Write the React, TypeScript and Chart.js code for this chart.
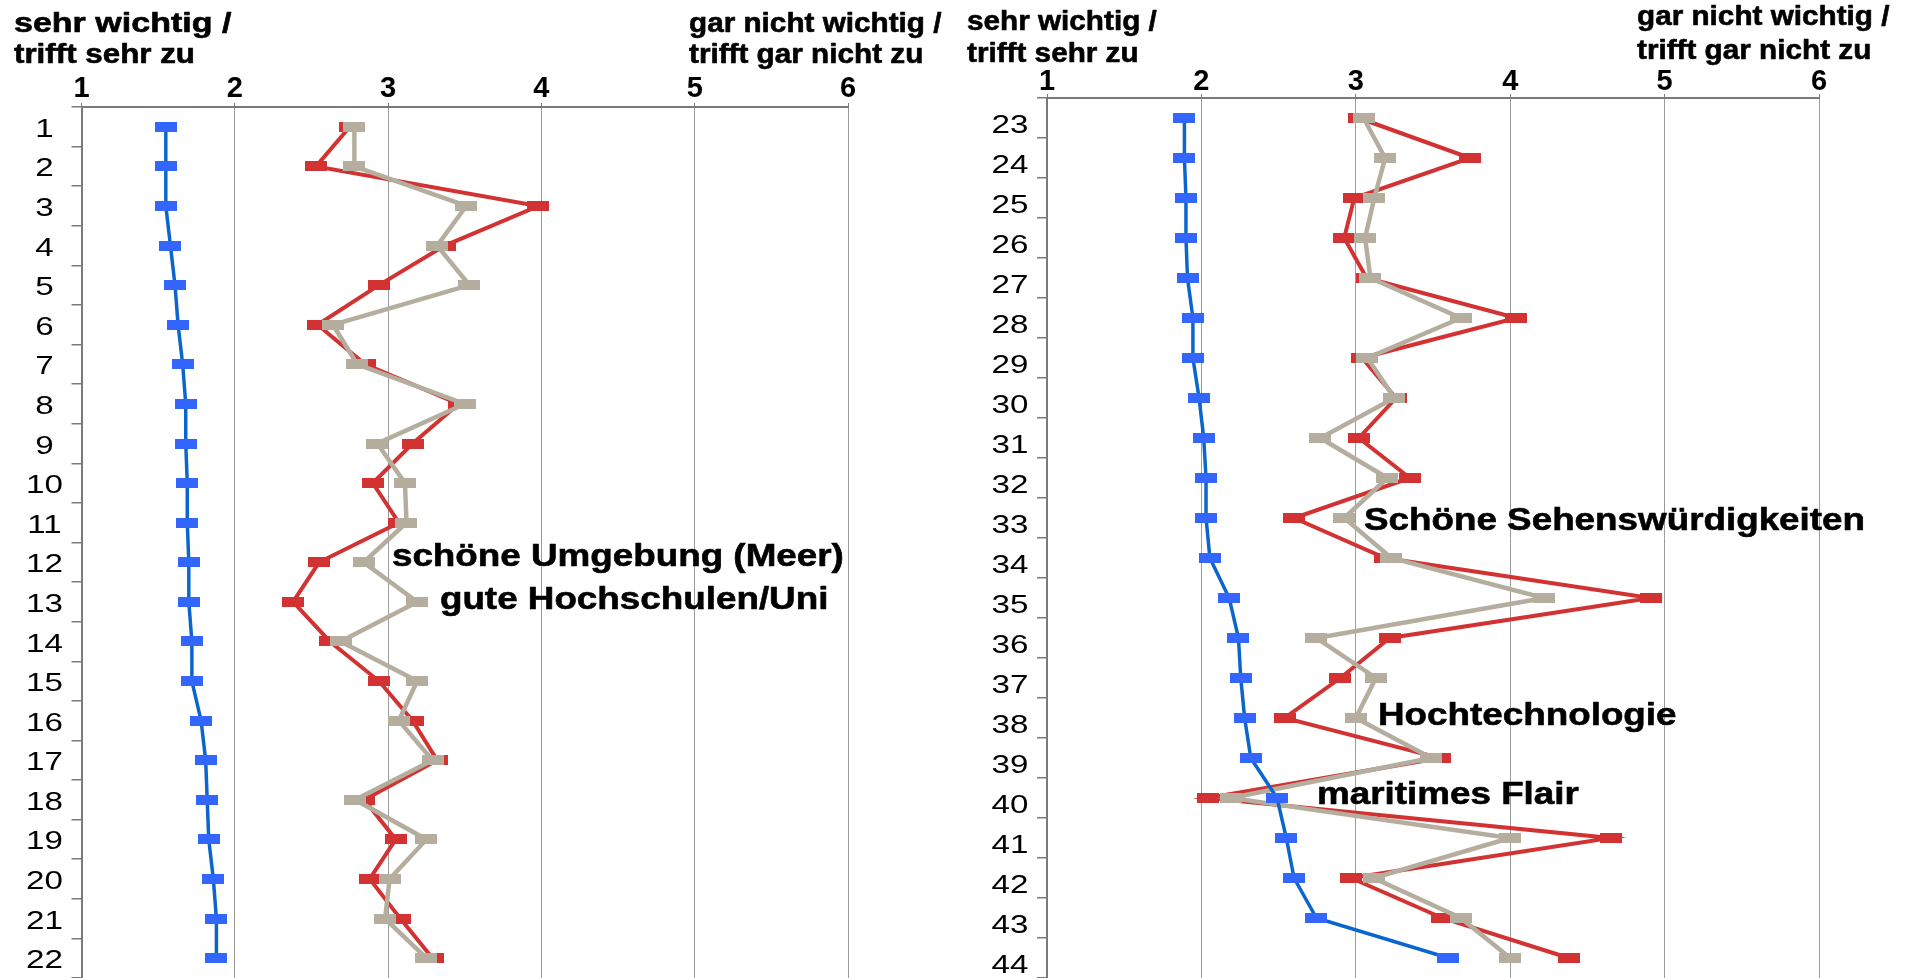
import React, { useEffect, useRef } from 'react';
import { Chart, registerables } from 'chart.js';

Chart.register(...registerables);

// ---------- data ----------
const leftCategories = ['1', '2', '3', '4', '5', '6', '7', '8', '9', '10', '11', '12', '13', '14', '15', '16', '17', '18', '19', '20', '21', '22'];
const rightCategories = ['23', '24', '25', '26', '27', '28', '29', '30', '31', '32', '33', '34', '35', '36', '37', '38', '39', '40', '41', '42', '43', '44'];

const xMin = 1;
const xMax = 6;

const leftBlue = [1.55, 1.55, 1.55, 1.58, 1.61, 1.63, 1.66, 1.68, 1.68, 1.69, 1.69, 1.70, 1.70, 1.72, 1.72, 1.78, 1.81, 1.82, 1.83, 1.86, 1.88, 1.88];
const leftRed = [2.75, 2.53, 3.98, 3.37, 2.94, 2.54, 2.85, 3.46, 3.16, 2.90, 3.07, 2.55, 2.38, 2.62, 2.94, 3.16, 3.32, 2.845, 3.05, 2.88, 3.08, 3.29];
const leftGrey = [2.78, 2.78, 3.51, 3.32, 3.53, 2.64, 2.80, 3.50, 2.93, 3.11, 3.12, 2.84, 3.19, 2.69, 3.19, 3.07, 3.29, 2.785, 3.25, 3.01, 2.98, 3.25];

const rightBlue = [1.89, 1.89, 1.90, 1.90, 1.91, 1.945, 1.945, 1.985, 2.015, 2.03, 2.03, 2.055, 2.18, 2.24, 2.255, 2.28, 2.32, 2.49, 2.55, 2.60, 2.745, 3.60];
const rightRed = [3.02, 3.74, 2.99, 2.925, 3.07, 4.04, 3.04, 3.26, 3.02, 3.35, 2.60, 3.19, 4.91, 3.22, 2.90, 2.54, 3.545, 2.04, 4.65, 2.97, 3.56, 4.38];
const rightGrey = [3.05, 3.19, 3.12, 3.06, 3.095, 3.68, 3.075, 3.25, 2.77, 3.205, 2.925, 3.23, 4.22, 2.745, 3.13, 3.00, 3.49, 2.19, 4.00, 3.115, 3.68, 4.00];

const leftHeaders = ['sehr wichtig /', 'trifft sehr zu', 'gar nicht wichtig /', 'trifft gar nicht zu'];
const rightHeaders = ['sehr wichtig /', 'trifft sehr zu', 'gar nicht wichtig /', 'trifft gar nicht zu'];

const leftNotes = ['schöne Umgebung (Meer)', 'gute Hochschulen/Uni'];
const rightNotes = ['Schöne Sehenswürdigkeiten', 'Hochtechnologie', 'maritimes Flair'];

// ---------- styles ----------
const FONT = '"Liberation Sans", Arial, Helvetica, sans-serif';
const BLUE_LINE = '#0a66cc';
const BLUE_MARK = '#3366ff';
const RED = '#d23232';
const GREY = '#b5ad9e';
const GRID = '#9c9c9c';
const AXIS = '#7a7a7a';

type Pos = { x: number; y: number; sx?: number };

interface ChartCfg {
  categories: string[];
  blue: number[];
  red: number[];
  grey: number[];
  width: number;
  height: number;
  areaLeft: number;
  areaTop: number;
  padRight: number;
  tickPad: number;
  labelShift: number;
  headers: string[];
  headerPos: Pos[];
  notes: string[];
  notePos: Pos[]; // x in value units, y in category index units (baseline)
}

function makeMarker(color: string): HTMLCanvasElement {
  const c = document.createElement('canvas');
  c.width = 22;
  c.height = 10;
  const g = c.getContext('2d')!;
  g.fillStyle = color;
  g.fillRect(0, 0, 22, 10);
  return c;
}

function boldText(ctx: CanvasRenderingContext2D, text: string, stroke: number) {
  ctx.fillText(text, 0, 0);
  if (stroke > 0) {
    ctx.lineWidth = stroke;
    ctx.strokeStyle = '#000';
    ctx.lineJoin = 'round';
    ctx.strokeText(text, 0, 0);
  }
}

function makeTextPlugin(cfg: ChartCfg) {
  return {
    id: 'customText',
    afterDraw(chart: any) {
      const ctx: CanvasRenderingContext2D = chart.ctx;
      const xs = chart.scales.x;
      const ys = chart.scales.y;
      ctx.save();
      ctx.fillStyle = '#000';
      // row labels (stretched horizontally like the original)
      ctx.font = `25.5px ${FONT}`;
      ctx.textAlign = 'center';
      ctx.textBaseline = 'middle';
      ys.ticks.forEach((t: any, i: number) => {
        const y = ys.getPixelForTick(i);
        ctx.save();
        ctx.translate(chart.chartArea.left - 37, y + cfg.labelShift);
        ctx.scale(1.3, 1);
        ctx.fillText(String(ys.getLabelForValue(t.value)), 0, 0);
        ctx.restore();
      });
      // headers
      ctx.textAlign = 'left';
      ctx.textBaseline = 'alphabetic';
      ctx.font = `bold 27px ${FONT}`;
      cfg.headers.forEach((h, i) => {
        const p = cfg.headerPos[i];
        ctx.save();
        ctx.translate(p.x, p.y);
        ctx.scale(p.sx || 1.1, 1);
        boldText(ctx, h, 0.6);
        ctx.restore();
      });
      // annotations
      ctx.font = `bold 32px ${FONT}`;
      cfg.notes.forEach((n, i) => {
        const p = cfg.notePos[i];
        const px = xs.getPixelForValue(p.x);
        const py = ys.getPixelForValue(p.y);
        ctx.save();
        ctx.translate(px, py);
        ctx.scale(1.15, 1);
        boldText(ctx, n, 0.6);
        ctx.restore();
      });
      ctx.restore();
    },
  };
}

function SurveyChart({ cfg, left }: { cfg: ChartCfg; left: number }) {
  const ref = useRef<HTMLCanvasElement | null>(null);
  useEffect(() => {
    if (!ref.current) return;
    const blueMark = makeMarker(BLUE_MARK);
    const redMark = makeMarker(RED);
    const greyMark = makeMarker(GREY);
    const chart = new Chart(ref.current, {
      type: 'line',
      data: {
        labels: cfg.categories,
        datasets: [
          {
            data: cfg.blue,
            borderColor: BLUE_LINE,
            borderWidth: 3.5,
            pointStyle: blueMark as any,
            pointRadius: 5,
            tension: 0,
          },
          {
            data: cfg.grey,
            borderColor: GREY,
            borderWidth: 4.5,
            pointStyle: greyMark as any,
            pointRadius: 5,
            tension: 0,
          },
          {
            data: cfg.red,
            borderColor: RED,
            borderWidth: 4,
            pointStyle: redMark as any,
            pointRadius: 5,
            tension: 0,
          },
        ],
      },
      options: {
        indexAxis: 'y',
        animation: false,
        responsive: false,
        events: [],
        layout: { autoPadding: false, padding: { left: 0, top: 0, right: cfg.padRight, bottom: 0 } },
        plugins: { legend: { display: false }, tooltip: { enabled: false } },
        scales: {
          x: {
            type: 'linear',
            position: 'top',
            min: xMin,
            max: xMax,
            ticks: {
              stepSize: 1,
              color: '#000',
              padding: cfg.tickPad,
              font: { family: FONT, size: 29, weight: 'bold', lineHeight: 1 },
            },
            grid: { color: GRID, lineWidth: 1, tickLength: 4, tickColor: AXIS },
            border: { display: true, color: AXIS, width: 2 },
            afterFit: (s: any) => {
              s.height = cfg.areaTop;
            },
          },
          y: {
            type: 'category',
            offset: true,
            ticks: { display: false },
            grid: {
              offset: true,
              drawOnChartArea: false,
              drawTicks: true,
              tickLength: 10,
              color: AXIS,
              lineWidth: 1.5,
            },
            border: { display: true, color: AXIS, width: 2 },
            afterFit: (s: any) => {
              s.width = cfg.areaLeft;
            },
          },
        },
      } as any,
      plugins: [makeTextPlugin(cfg)],
    });
    return () => chart.destroy();
  }, [cfg]);
  return (
    <canvas
      ref={ref}
      width={cfg.width}
      height={cfg.height}
      style={{ position: 'absolute', left, top: 0, width: cfg.width, height: cfg.height }}
    />
  );
}

const leftCfg: ChartCfg = {
  categories: leftCategories,
  blue: leftBlue,
  red: leftRed,
  grey: leftGrey,
  width: 955,
  height: 978,
  areaLeft: 81.5,
  areaTop: 107,
  padRight: 107,
  tickPad: 0,
  labelShift: 3,
  headers: leftHeaders,
  headerPos: [
    { x: 14, y: 32, sx: 1.26 },
    { x: 14, y: 63, sx: 1.16 },
    { x: 689, y: 32 },
    { x: 689, y: 63 },
  ],
  notes: leftNotes,
  notePos: [
    { x: 3.025, y: 11.1 },
    { x: 3.338, y: 12.19 },
  ],
};

const rightCfg: ChartCfg = {
  categories: rightCategories,
  blue: rightBlue,
  red: rightRed,
  grey: rightGrey,
  width: 950,
  height: 978,
  areaLeft: 92,
  areaTop: 98,
  padRight: 86,
  tickPad: -2,
  labelShift: 8,
  headers: rightHeaders,
  headerPos: [
    { x: 12, y: 29.5 },
    { x: 12, y: 62 },
    { x: 682, y: 25 },
    { x: 682, y: 59 },
  ],
  notes: rightNotes,
  notePos: [
    { x: 3.053, y: 10.31 },
    { x: 3.144, y: 15.18 },
    { x: 2.749, y: 17.16 },
  ],
};

export default function App() {
  return (
    <div
      style={{
        position: 'absolute',
        left: 0,
        top: 0,
        width: 1905,
        height: 978,
        overflow: 'hidden',
        background: '#fff',
      }}
    >
      <SurveyChart cfg={leftCfg} left={0} />
      <SurveyChart cfg={rightCfg} left={955} />
    </div>
  );
}
